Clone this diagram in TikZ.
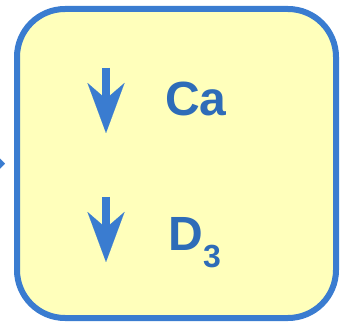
\documentclass[tikz,border=0pt]{standalone}
\usepackage{fontspec}
\setmainfont{Liberation Sans}
\usetikzlibrary{arrows.meta,positioning}
\definecolor{rimblue}{RGB}{58,124,208}
\definecolor{inkblue}{RGB}{46,108,184}
\definecolor{panelfill}{RGB}{255,255,187}
\tikzset{
  x=1pt, y=1pt,
  every node/.style={outer sep=0mm,inner sep=0mm}
}
\tikzset{panel/.style={
    draw=rimblue,
    fill=panelfill,
    line width=6pt,
    rounded corners=48pt,
    minimum width=319pt,
    minimum height=309pt
  }}
\tikzset{elem/.style={
    text=inkblue,
    font=\bfseries\fontsize{48}{48}\selectfont,
    anchor=base west
  }}
\tikzset{fall/.style={
    draw=rimblue,
    line width=8pt,
    -{Stealth[length=50pt,width=37pt,inset=16pt,line width=0.01pt]}
  }}
\tikzset{feedline/.style={
    draw=rimblue,
    line width=4pt,
    -{Triangle[length=10pt,width=20pt,line width=0.01pt]}
  }}

\begin{document}
\begin{tikzpicture}
  \useasboundingbox (0,0) rectangle (340,324);
  \clip (0,0) rectangle (340,324);

  \node (Panel) [panel] at (176.5,160.5) {};

  \node (Ca) [elem] at (165,208) {Ca};
  \node (D)  [elem] at (168.5,73) {D\raisebox{-17pt}{\fontsize{32}{32}\selectfont 3}};

  \coordinate (CaTop) at (106,256);
  \coordinate (CaEnd) at (106,191);
  \coordinate (DTop)  at (106,127);
  \coordinate (DEnd)  at (106,62);
  \draw [fall] (CaTop) -- (CaEnd);
  \draw [fall] (DTop) -- (DEnd);

  \coordinate (Feed) at (-40,160);
  \draw [feedline,shorten >=12pt] (Feed) -- (Panel.west);
\end{tikzpicture}
\end{document}
